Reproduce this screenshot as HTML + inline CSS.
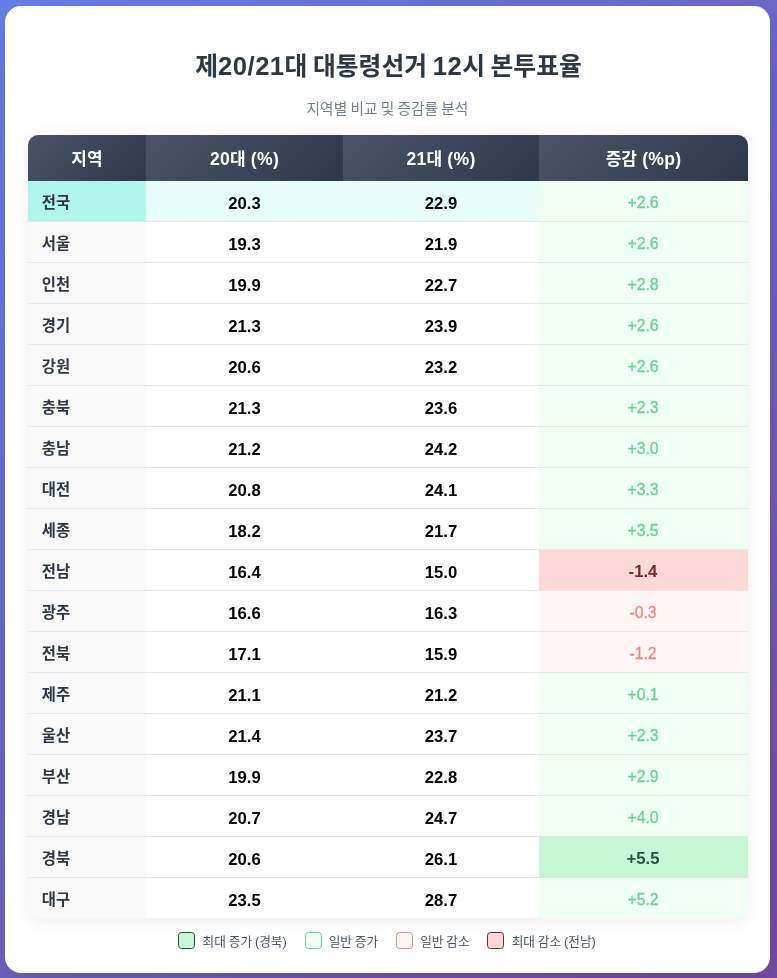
<!DOCTYPE html>
<html lang="ko">
<head>
<meta charset="utf-8">
<title>제20/21대 대통령선거 12시 본투표율</title>
<style>
*{box-sizing:border-box;margin:0;padding:0}
html,body{width:777px;height:978px;overflow:hidden}
body{font-family:"Liberation Sans","Noto Sans CJK KR",sans-serif;background:linear-gradient(135deg,#667eea 0%,#764ba2 100%);position:relative;color:#2d3748}
.card{position:absolute;left:5px;top:6px;width:765px;height:967px;background:#fff;border-radius:16px;box-shadow:0 16px 36px rgba(0,0,0,.12)}
h1{position:absolute;left:2px;right:0;top:39px;text-align:center;font-size:24.8px;line-height:42px;font-weight:700;color:#2d3748;word-spacing:-1.3px}
h1 .l{font-size:25.6px;letter-spacing:.5px}
.sub{position:absolute;left:0;right:0;top:91.5px;text-align:center;word-spacing:-.8px;font-size:14.7px;line-height:22px;color:#718096}
table{position:absolute;left:23px;top:129px;width:720px;border-collapse:separate;border-spacing:0;border-radius:10px;overflow:hidden;box-shadow:0 3px 18px rgba(0,0,0,.075);table-layout:fixed}
th{height:46px;background:linear-gradient(135deg,#4a5568 0%,#2d3748 100%);color:#fff;font-size:17px;font-weight:700;padding-bottom:1.4px;text-align:center;vertical-align:middle}
th .l{font-size:17.6px;letter-spacing:.25px}
.c1{width:118px}.c2{width:197px}.c3{width:196px}.c4{width:209px}
td{height:41px;border-bottom:1px solid #e2e8f0;font-size:16px;vertical-align:middle;text-align:center;background:#fff}
tbody tr:last-child td{height:40px;border-bottom:0}
td.region{text-align:left;padding-left:13.8px;padding-bottom:.2px;font-size:15.4px;font-weight:700;background:#f9f9f9;color:#2d3748}
td.num{font-weight:700;color:#000;font-size:16.7px;padding-top:5px}
td.chg{font-weight:400;font-size:15.8px;padding-top:4.6px;padding-right:1px;-webkit-text-stroke:.3px currentColor}
td.inc{background:#f0fff4;color:#68d391}
td.dec{background:#fff5f5;color:#fc8181}
td.maxinc{background:#c6f6d5;color:#22543d;font-weight:700;font-size:16.7px;padding-top:3.4px;-webkit-text-stroke:0}
td.maxdec{background:#fed7d7;color:#742a2a;font-weight:700;font-size:16.7px;padding-top:3.4px;-webkit-text-stroke:0}
tr.total td{background:#e6fffa}
tr.total td.region{background:#b2f5ea}
tr.total td.inc{background:#f0fff4}
.legend{position:absolute;left:0;right:0;top:924px;height:20px;display:flex;justify-content:center;align-items:center;font-size:12.7px;word-spacing:-.7px;color:#4a5568;padding-right:.8px}
.item{display:flex;align-items:center;margin:0 8.9px}
.box{display:inline-block;width:17px;height:17px;border-radius:3.5px;border:1.5px solid;margin-right:7.2px}
.b-maxinc{background:#c6f6d5;border-color:#22543d}
.b-inc{background:#f0fff4;border-color:#68d391}
.b-dec{background:#fff5f5;border-color:#fc8181}
.b-maxdec{background:#fed7d7;border-color:#742a2a}
</style>
</head>
<body>
<div class="card">
<h1>제<span class="l">20/21</span>대 대통령선거 <span class="l">12</span>시 본투표율</h1>
<p class="sub">지역별 비교 및 증감률 분석</p>
<table>
<thead>
<tr><th class="c1">지역</th><th class="c2"><span class="l">20</span>대<span class="l"> (%)</span></th><th class="c3"><span class="l">21</span>대<span class="l"> (%)</span></th><th class="c4">증감<span class="l"> (%p)</span></th></tr>
</thead>
<tbody>
<tr class="total"><td class="region">전국</td><td class="num">20.3</td><td class="num">22.9</td><td class="chg inc">+2.6</td></tr>
<tr><td class="region">서울</td><td class="num">19.3</td><td class="num">21.9</td><td class="chg inc">+2.6</td></tr>
<tr><td class="region">인천</td><td class="num">19.9</td><td class="num">22.7</td><td class="chg inc">+2.8</td></tr>
<tr><td class="region">경기</td><td class="num">21.3</td><td class="num">23.9</td><td class="chg inc">+2.6</td></tr>
<tr><td class="region">강원</td><td class="num">20.6</td><td class="num">23.2</td><td class="chg inc">+2.6</td></tr>
<tr><td class="region">충북</td><td class="num">21.3</td><td class="num">23.6</td><td class="chg inc">+2.3</td></tr>
<tr><td class="region">충남</td><td class="num">21.2</td><td class="num">24.2</td><td class="chg inc">+3.0</td></tr>
<tr><td class="region">대전</td><td class="num">20.8</td><td class="num">24.1</td><td class="chg inc">+3.3</td></tr>
<tr><td class="region">세종</td><td class="num">18.2</td><td class="num">21.7</td><td class="chg inc">+3.5</td></tr>
<tr><td class="region">전남</td><td class="num">16.4</td><td class="num">15.0</td><td class="chg maxdec">-1.4</td></tr>
<tr><td class="region">광주</td><td class="num">16.6</td><td class="num">16.3</td><td class="chg dec">-0.3</td></tr>
<tr><td class="region">전북</td><td class="num">17.1</td><td class="num">15.9</td><td class="chg dec">-1.2</td></tr>
<tr><td class="region">제주</td><td class="num">21.1</td><td class="num">21.2</td><td class="chg inc">+0.1</td></tr>
<tr><td class="region">울산</td><td class="num">21.4</td><td class="num">23.7</td><td class="chg inc">+2.3</td></tr>
<tr><td class="region">부산</td><td class="num">19.9</td><td class="num">22.8</td><td class="chg inc">+2.9</td></tr>
<tr><td class="region">경남</td><td class="num">20.7</td><td class="num">24.7</td><td class="chg inc">+4.0</td></tr>
<tr><td class="region">경북</td><td class="num">20.6</td><td class="num">26.1</td><td class="chg maxinc">+5.5</td></tr>
<tr><td class="region">대구</td><td class="num">23.5</td><td class="num">28.7</td><td class="chg inc">+5.2</td></tr>
</tbody>
</table>
<div class="legend"><span class="item"><i class="box b-maxinc"></i>최대 증가 (경북)</span><span class="item"><i class="box b-inc"></i>일반 증가</span><span class="item"><i class="box b-dec"></i>일반 감소</span><span class="item"><i class="box b-maxdec"></i>최대 감소 (전남)</span></div>
</div>
</body>
</html>
